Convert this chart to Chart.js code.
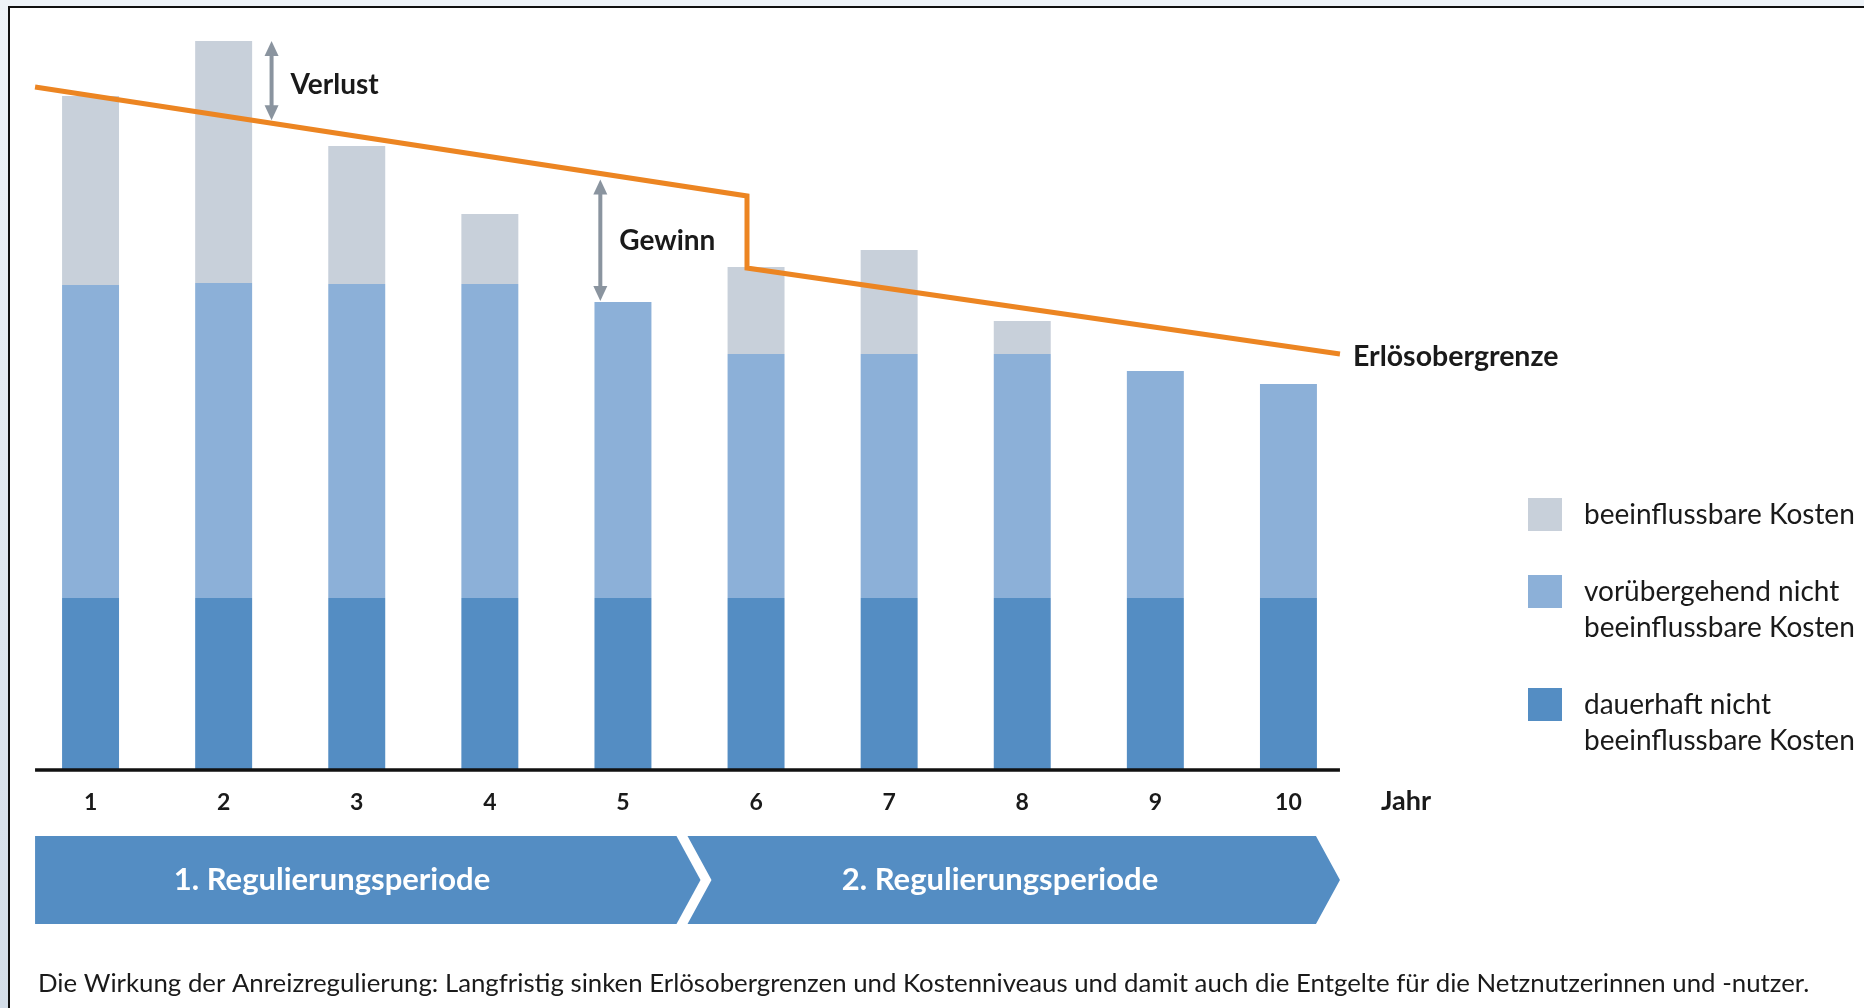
<!DOCTYPE html>
<html>
<head>
<meta charset="utf-8">
<script src="https://cdn.jsdelivr.net/npm/chart.js@4/dist/chart.umd.min.js"></script>
<style>
  html, body { margin: 0; padding: 0; background: #ffffff; }
  #wrap { width: 1864px; height: 1008px; position: relative; }
  canvas { display: block; }
</style>
</head>
<body>
<div id="wrap"><canvas id="c" width="1864" height="1008"></canvas></div>
<script>
// ---------- data ----------
const years = ['1', '2', '3', '4', '5', '6', '7', '8', '9', '10'];
const dauerhaftNicht = [17.2, 17.2, 17.2, 17.2, 17.2, 17.2, 17.2, 17.2, 17.2, 17.2];
const voruebergehendNicht = [31.3, 31.5, 31.4, 31.4, 29.6, 24.4, 24.4, 24.4, 22.7, 21.4];
const beeinflussbar = [18.9, 24.2, 13.8, 7.0, 0, 8.7, 10.4, 3.3, 0, 0];
// revenue cap (Erlösobergrenze), x in year-index units
const capX = [-0.417, 4.932, 4.932, 9.387];
const capY = [68.3, 57.4, 50.2, 41.6];
const periods = ['1. Regulierungsperiode', '2. Regulierungsperiode'];
const periodBounds = [-0.417, 4.5, 9.387];
const legendLabels = ['beeinflussbare Kosten', 'vorübergehend nicht\nbeeinflussbare Kosten', 'dauerhaft nicht\nbeeinflussbare Kosten'];
const annotations = [
  { text: 'Verlust', x: 1.36, bar: 1 },
  { text: 'Gewinn', x: 3.83, bar: 4 }
];
const axisTitle = 'Jahr';
const capLabel = 'Erlösobergrenze';
const caption = 'Die Wirkung der Anreizregulierung: Langfristig sinken Erlösobergrenzen und Kostenniveaus und damit auch die Entgelte für die Netznutzerinnen und -nutzer.';

// ---------- styles ----------
const C_DARK = '#548dc3';
const C_MID = '#8cb0d8';
const C_LIGHT = '#c8d0da';
const C_ORANGE = '#ec8522';
const C_ARROW = '#8a949f';
const C_TEXT = '#1a1a1a';
const FONT = 'Lato, "Open Sans", "DejaVu Sans", sans-serif';

function totalAt(i) { return dauerhaftNicht[i] + voruebergehendNicht[i] + beeinflussbar[i]; }
function capAt(x) {
  for (let i = 0; i < capX.length - 1; i++) {
    if (x >= capX[i] && x <= capX[i + 1] && capX[i + 1] !== capX[i]) {
      const t = (x - capX[i]) / (capX[i + 1] - capX[i]);
      return capY[i] + t * (capY[i + 1] - capY[i]);
    }
  }
  return capY[capY.length - 1];
}

function drawArrow(ctx, x, y1, y2) {
  const head = 15, hw = 7;
  ctx.save();
  ctx.strokeStyle = C_ARROW;
  ctx.fillStyle = C_ARROW;
  ctx.lineWidth = 4;
  ctx.beginPath();
  ctx.moveTo(x, y1 + head - 2);
  ctx.lineTo(x, y2 - head + 2);
  ctx.stroke();
  ctx.beginPath();
  ctx.moveTo(x, y1); ctx.lineTo(x - hw, y1 + head); ctx.lineTo(x + hw, y1 + head); ctx.closePath(); ctx.fill();
  ctx.beginPath();
  ctx.moveTo(x, y2); ctx.lineTo(x - hw, y2 - head); ctx.lineTo(x + hw, y2 - head); ctx.closePath(); ctx.fill();
  ctx.restore();
}

const decor = {
  id: 'decor',
  beforeDraw(chart) {
    const ctx = chart.ctx;
    ctx.save();
    ctx.fillStyle = '#ffffff';
    ctx.fillRect(0, 0, 1864, 1008);
    ctx.fillStyle = '#eef3f8';
    ctx.fillRect(0, 0, 1864, 6);
    const g = ctx.createLinearGradient(0, 0, 0, 1008);
    g.addColorStop(0, '#eef3f8');
    g.addColorStop(1, '#d3dde8');
    ctx.fillStyle = g;
    ctx.fillRect(0, 0, 8, 1008);
    ctx.strokeStyle = '#111111';
    ctx.lineWidth = 2;
    ctx.beginPath();
    ctx.moveTo(9, 1008); ctx.lineTo(9, 7); ctx.lineTo(1864, 7);
    ctx.stroke();
    ctx.restore();
  },
  afterDatasetsDraw(chart) {
    const ctx = chart.ctx;
    const xs = chart.scales.x, xl = chart.scales.xl, ys = chart.scales.y;
    ctx.save();
    // baseline
    ctx.strokeStyle = '#111111';
    ctx.lineWidth = 3.5;
    ctx.beginPath();
    ctx.moveTo(xl.getPixelForValue(capX[0]), ys.getPixelForValue(0));
    ctx.lineTo(xl.getPixelForValue(capX[capX.length - 1]), ys.getPixelForValue(0));
    ctx.stroke();

    // year labels
    ctx.fillStyle = C_TEXT;
    ctx.font = 'bold 23px ' + FONT;
    ctx.textAlign = 'center';
    ctx.textBaseline = 'middle';
    years.forEach((lab, i) => ctx.fillText(lab, xs.getPixelForValue(i), 803));
    ctx.font = 'bold 27px ' + FONT;
    ctx.textAlign = 'left';
    ctx.fillText(axisTitle, 1381, 801);

    // annotations
    annotations.forEach(a => {
      const px = xl.getPixelForValue(a.x);
      const yBar = ys.getPixelForValue(totalAt(a.bar));
      const yCap = ys.getPixelForValue(capAt(a.x));
      if (yBar < yCap) drawArrow(ctx, px, yBar, yCap - 3);
      else drawArrow(ctx, px, yCap + 6, yBar - 1);
      ctx.fillStyle = C_TEXT;
      ctx.font = 'bold 28px ' + FONT;
      ctx.textAlign = 'left';
      ctx.textBaseline = 'middle';
      ctx.fillText(a.text, px + 19, (yBar + yCap) / 2 + 3);
    });

    // cap label
    ctx.font = 'bold 28.5px ' + FONT;
    ctx.fillText(capLabel, xl.getPixelForValue(capX[capX.length - 1]) + 13, ys.getPixelForValue(capY[capY.length - 1]) + 3);

    // period banners
    const top = 836, bot = 924, mid = (top + bot) / 2, depth = 24;
    for (let p = 0; p < periods.length; p++) {
      const x0 = xl.getPixelForValue(periodBounds[p]);
      const x1 = xl.getPixelForValue(periodBounds[p + 1]);
      const left = p === 0 ? x0 : x0 - 2;
      const right = p === periods.length - 1 ? x1 : x1 + 11;
      ctx.fillStyle = C_DARK;
      ctx.beginPath();
      ctx.moveTo(left, top);
      ctx.lineTo(right - depth, top);
      ctx.lineTo(right, mid);
      ctx.lineTo(right - depth, bot);
      ctx.lineTo(left, bot);
      if (p > 0) ctx.lineTo(left + depth, mid);
      ctx.closePath();
      ctx.fill();
      ctx.fillStyle = '#ffffff';
      ctx.font = 'bold 31px ' + FONT;
      ctx.textAlign = 'center';
      ctx.textBaseline = 'middle';
      const cx = p === 0 ? 332 : 1000;
      ctx.fillText(periods[p], cx, mid);
    }

    // legend
    const legColors = [C_LIGHT, C_MID, C_DARK];
    let ly = 515;
    ctx.textAlign = 'left';
    ctx.textBaseline = 'middle';
    ctx.font = '28px ' + FONT;
    legendLabels.forEach((lab, i) => {
      ctx.fillStyle = legColors[i];
      ctx.fillRect(1528, ly - 17, 34, 33);
      ctx.fillStyle = C_TEXT;
      const lines = lab.split('\n');
      lines.forEach((ln, k) => ctx.fillText(ln, 1584, ly + k * 36));
      ly += lines.length * 36 + 41;
    });

    // caption
    ctx.font = '25.8px ' + FONT;
    ctx.fillStyle = C_TEXT;
    ctx.textAlign = 'left';
    ctx.fillText(caption, 38, 984);
    ctx.restore();
  }
};

new Chart(document.getElementById('c'), {
  type: 'bar',
  data: {
    labels: years,
    datasets: [
      { type: 'line', label: capLabel, xAxisID: 'xl', yAxisID: 'y', stack: 'cap', order: 0,
        data: capX.map((x, i) => ({ x: x, y: capY[i] })),
        borderColor: C_ORANGE, borderWidth: 5, pointRadius: 0, tension: 0, fill: false,
        borderJoinStyle: 'miter', borderCapStyle: 'butt' },
      { label: legendLabels[2], data: dauerhaftNicht, backgroundColor: C_DARK, stack: 'k', order: 1 },
      { label: legendLabels[1], data: voruebergehendNicht, backgroundColor: C_MID, stack: 'k', order: 1 },
      { label: legendLabels[0], data: beeinflussbar, backgroundColor: C_LIGHT, stack: 'k', order: 1 }
    ]
  },
  options: {
    responsive: false,
    animation: false,
    devicePixelRatio: 1,
    layout: { padding: { left: 24, right: 509, top: 20, bottom: 238 } },
    datasets: { bar: { barPercentage: 0.428, categoryPercentage: 1, borderWidth: 0, grouped: false } },
    scales: {
      x: { type: 'category', stacked: true, display: false, offset: true },
      xl: { type: 'linear', min: -0.5, max: 9.5, display: false, offset: false, grid: { offset: false } },
      y: { type: 'linear', stacked: true, min: 0, max: 75, display: false }
    },
    plugins: { legend: { display: false }, tooltip: { enabled: false } }
  },
  plugins: [decor]
});
</script>
</body>
</html>
